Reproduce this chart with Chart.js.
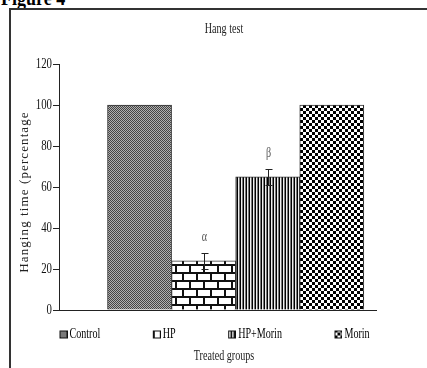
<!DOCTYPE html>
<html><head><meta charset="utf-8">
<script src="https://cdn.jsdelivr.net/npm/chart.js@4.4.1/dist/chart.umd.min.js"></script>
<style>
html,body{margin:0;padding:0;width:427px;height:368px;overflow:hidden;background:#fff;}
#fig{position:absolute;left:1px;top:-13px;font:bold 22px "Liberation Serif",serif;line-height:22px;transform:scaleX(0.82);transform-origin:0 0;white-space:nowrap;color:#000;}
#frame{position:absolute;left:9px;top:8px;width:520px;height:420px;border-left:2px solid #333;border-top:2px solid #333;}
#wrap{position:absolute;left:0;top:0;width:441px;height:368px;}
</style></head><body>
<div id="fig">Figure 4</div>
<div id="frame"></div>
<div id="wrap"><canvas id="c" width="441" height="368"></canvas></div>
<script>
// ---- data ----
const groups   = ['Control', 'HP', 'HP+Morin', 'Morin'];
const hangPct  = [100, 24, 65, 100];
const hangErr  = [0, 4, 4, 0];
const sigMarks = ['', 'α', 'β', ''];
const yMin = 0, yMax = 120, yStep = 20;
const titleText  = 'Hang test';
const yTitleText = 'Hanging time (percentage';
const xTitleText = 'Treated groups';

// ---- condensed text rendering (reference text is horizontally compressed) ----
const canvas = document.getElementById('c');
const ctx = canvas.getContext('2d');
const SQ = 0.72, SQ_ROT = 0.95;
const P = CanvasRenderingContext2D.prototype;
ctx.fillText = function (t, x, y) {
  const rot = Math.abs(this.getTransform().b) > 0.5;
  this.save();
  this.translate(x, y);
  if (rot) this.scale(1, SQ_ROT); else this.scale(SQ, 1);
  P.fillText.call(this, t, 0, 0);
  this.restore();
};
ctx.measureText = function (t) {
  const m = P.measureText.call(this, t);
  const f = Math.abs(this.getTransform().b) > 0.5 ? 1 : SQ;
  return {
    width: m.width * f,
    actualBoundingBoxLeft: m.actualBoundingBoxLeft * f,
    actualBoundingBoxRight: m.actualBoundingBoxRight * f,
    actualBoundingBoxAscent: m.actualBoundingBoxAscent,
    actualBoundingBoxDescent: m.actualBoundingBoxDescent,
    fontBoundingBoxAscent: m.fontBoundingBoxAscent,
    fontBoundingBoxDescent: m.fontBoundingBoxDescent
  };
};

// ---- fill patterns ----
function makeTile(w, h, draw) {
  const c = document.createElement('canvas'); c.width = w; c.height = h;
  draw(c.getContext('2d')); return c;
}
const tiles = [
  makeTile(2, 2, g => { g.fillStyle = '#b0b0b0'; g.fillRect(0, 0, 2, 2); g.fillStyle = '#444'; g.fillRect(0, 0, 1, 1); g.fillRect(1, 1, 1, 1); }),
  makeTile(14, 16, g => { g.fillStyle = '#fff'; g.fillRect(0, 0, 14, 16); g.fillStyle = '#111';
    g.fillRect(0, 0, 14, 2); g.fillRect(0, 8, 14, 2); g.fillRect(0, 0, 2, 8); g.fillRect(7, 8, 2, 8); }),
  makeTile(3, 1, g => { g.fillStyle = '#eee'; g.fillRect(0, 0, 3, 1); g.fillStyle = '#000'; g.fillRect(0, 0, 1, 1); g.fillStyle = '#777'; g.fillRect(2, 0, 1, 1); }),
  makeTile(6, 6, g => { g.fillStyle = '#fff'; g.fillRect(0, 0, 6, 6); g.fillStyle = '#000'; g.fillRect(0, 0, 3, 3); g.fillRect(3, 3, 3, 3); })
];
const patterns = tiles.map(t => ctx.createPattern(t, 'repeat'));

// legend icons: transparent lead-in with the patterned square at the right end
const ICON_W = 50, ICON_H = 10;
const legendIcons = tiles.map(t => makeTile(ICON_W, ICON_H, g => {
  g.fillStyle = g.createPattern(t, 'repeat');
  g.fillRect(ICON_W - 8, 1, 8, 8);
  g.strokeStyle = '#111'; g.lineWidth = 1;
  g.strokeRect(ICON_W - 7.5, 1.5, 7, 7);
}));

// ---- plugins ----
const yTitleSpacing = {
  id: 'yTitleSpacing',
  beforeDraw(chart) {
    const s = chart.scales.y;
    if (!s.__patched) {
      const orig = s.drawTitle;
      s.drawTitle = function () {
        const c = this.ctx; c.save(); c.letterSpacing = '1.1px'; c.translate(0, 5);
        orig.call(this); c.restore();
      };
      s.__patched = true;
    }
  }
};
const errorBars = {
  id: 'errorBars',
  afterDatasetsDraw(chart) {
    const c = chart.ctx, x = chart.scales.x, y = chart.scales.y;
    c.save();
    c.strokeStyle = '#222'; c.lineWidth = 1;
    groups.forEach((g, i) => {
      const v = hangPct[i], e = hangErr[i];
      const cx = Math.round(x.getPixelForValue(i + 1)) + 0.5;
      if (e > 0) {
        const yt = Math.round(y.getPixelForValue(v + e)) + 0.5;
        const yb = Math.round(y.getPixelForValue(v - e)) + 0.5;
        c.beginPath();
        c.moveTo(cx, yt); c.lineTo(cx, yb);
        c.moveTo(cx - 3, yt); c.lineTo(cx + 4, yt);
        c.moveTo(cx - 3, yb); c.lineTo(cx + 4, yb);
        c.stroke();
      }
      if (sigMarks[i]) {
        c.fillStyle = '#555';
        c.font = '14px "Liberation Serif", serif';
        c.textAlign = 'center'; c.textBaseline = 'middle';
        c.fillText(sigMarks[i], cx, y.getPixelForValue(v + e) - 15);
      }
    });
    c.restore();
  }
};

Chart.defaults.font.family = '"Liberation Serif", "Times New Roman", serif';
Chart.defaults.color = '#222';

new Chart(canvas, {
  type: 'bar',
  data: {
    datasets: groups.map((g, i) => ({
      label: g,
      data: [{ x: i + 1, y: hangPct[i] }],
      backgroundColor: patterns[i],
      borderColor: '#333',
      borderWidth: 1,
      barPercentage: 1,
      categoryPercentage: 1
    }))
  },
  options: {
    responsive: false,
    animation: false,
    layout: { padding: { left: 7, right: 0, top: 0, bottom: 0 } },
    scales: {
      x: {
        type: 'linear', min: -0.257, max: 4.69, stacked: true, offset: false,
        ticks: { display: false },
        grid: { display: false, offset: false },
        border: { display: true, color: '#222', width: 1 },
        afterBuildTicks: s => { s.ticks = groups.map((g, i) => ({ value: i + 1 })); },
        afterFit: s => { s.height = 2; }
      },
      y: {
        min: yMin, max: yMax, stacked: true,
        ticks: { stepSize: yStep, color: '#111', font: { size: 15 }, padding: 1 },
        grid: { display: true, drawOnChartArea: false, drawTicks: true, tickLength: 6, color: '#222' },
        border: { display: true, color: '#222', width: 1 },
        title: { display: true, text: yTitleText, color: '#222', font: { size: 13 }, padding: { top: 10.2, bottom: 0 } },
        afterFit: s => { s.width = 52; }
      },
      yR: {
        position: 'right', display: true,
        ticks: { display: false }, grid: { display: false }, border: { display: false },
        afterFit: s => { s.width = 65; }
      }
    },
    plugins: {
      title: { display: true, text: titleText, color: '#222', font: { size: 14, weight: 'normal' }, padding: { top: 21, bottom: 26.2 } },
      subtitle: { display: true, position: 'bottom', text: xTitleText, color: '#222', font: { size: 14 }, padding: { top: 0, bottom: 3.7 } },
      legend: {
        display: true, position: 'bottom', align: 'start', maxHeight: 35.5,
        labels: {
          usePointStyle: true, pointStyleWidth: 40, padding: 15.5,
          color: '#222', font: { size: 14 },
          generateLabels: () => groups.map((g, i) => ({
            text: g, pointStyle: legendIcons[i], datasetIndex: i,
            fillStyle: 'transparent', strokeStyle: 'transparent', lineWidth: 0, hidden: false
          }))
        }
      },
      tooltip: { enabled: false }
    }
  },
  plugins: [yTitleSpacing, errorBars]
});
</script>
</body></html>
